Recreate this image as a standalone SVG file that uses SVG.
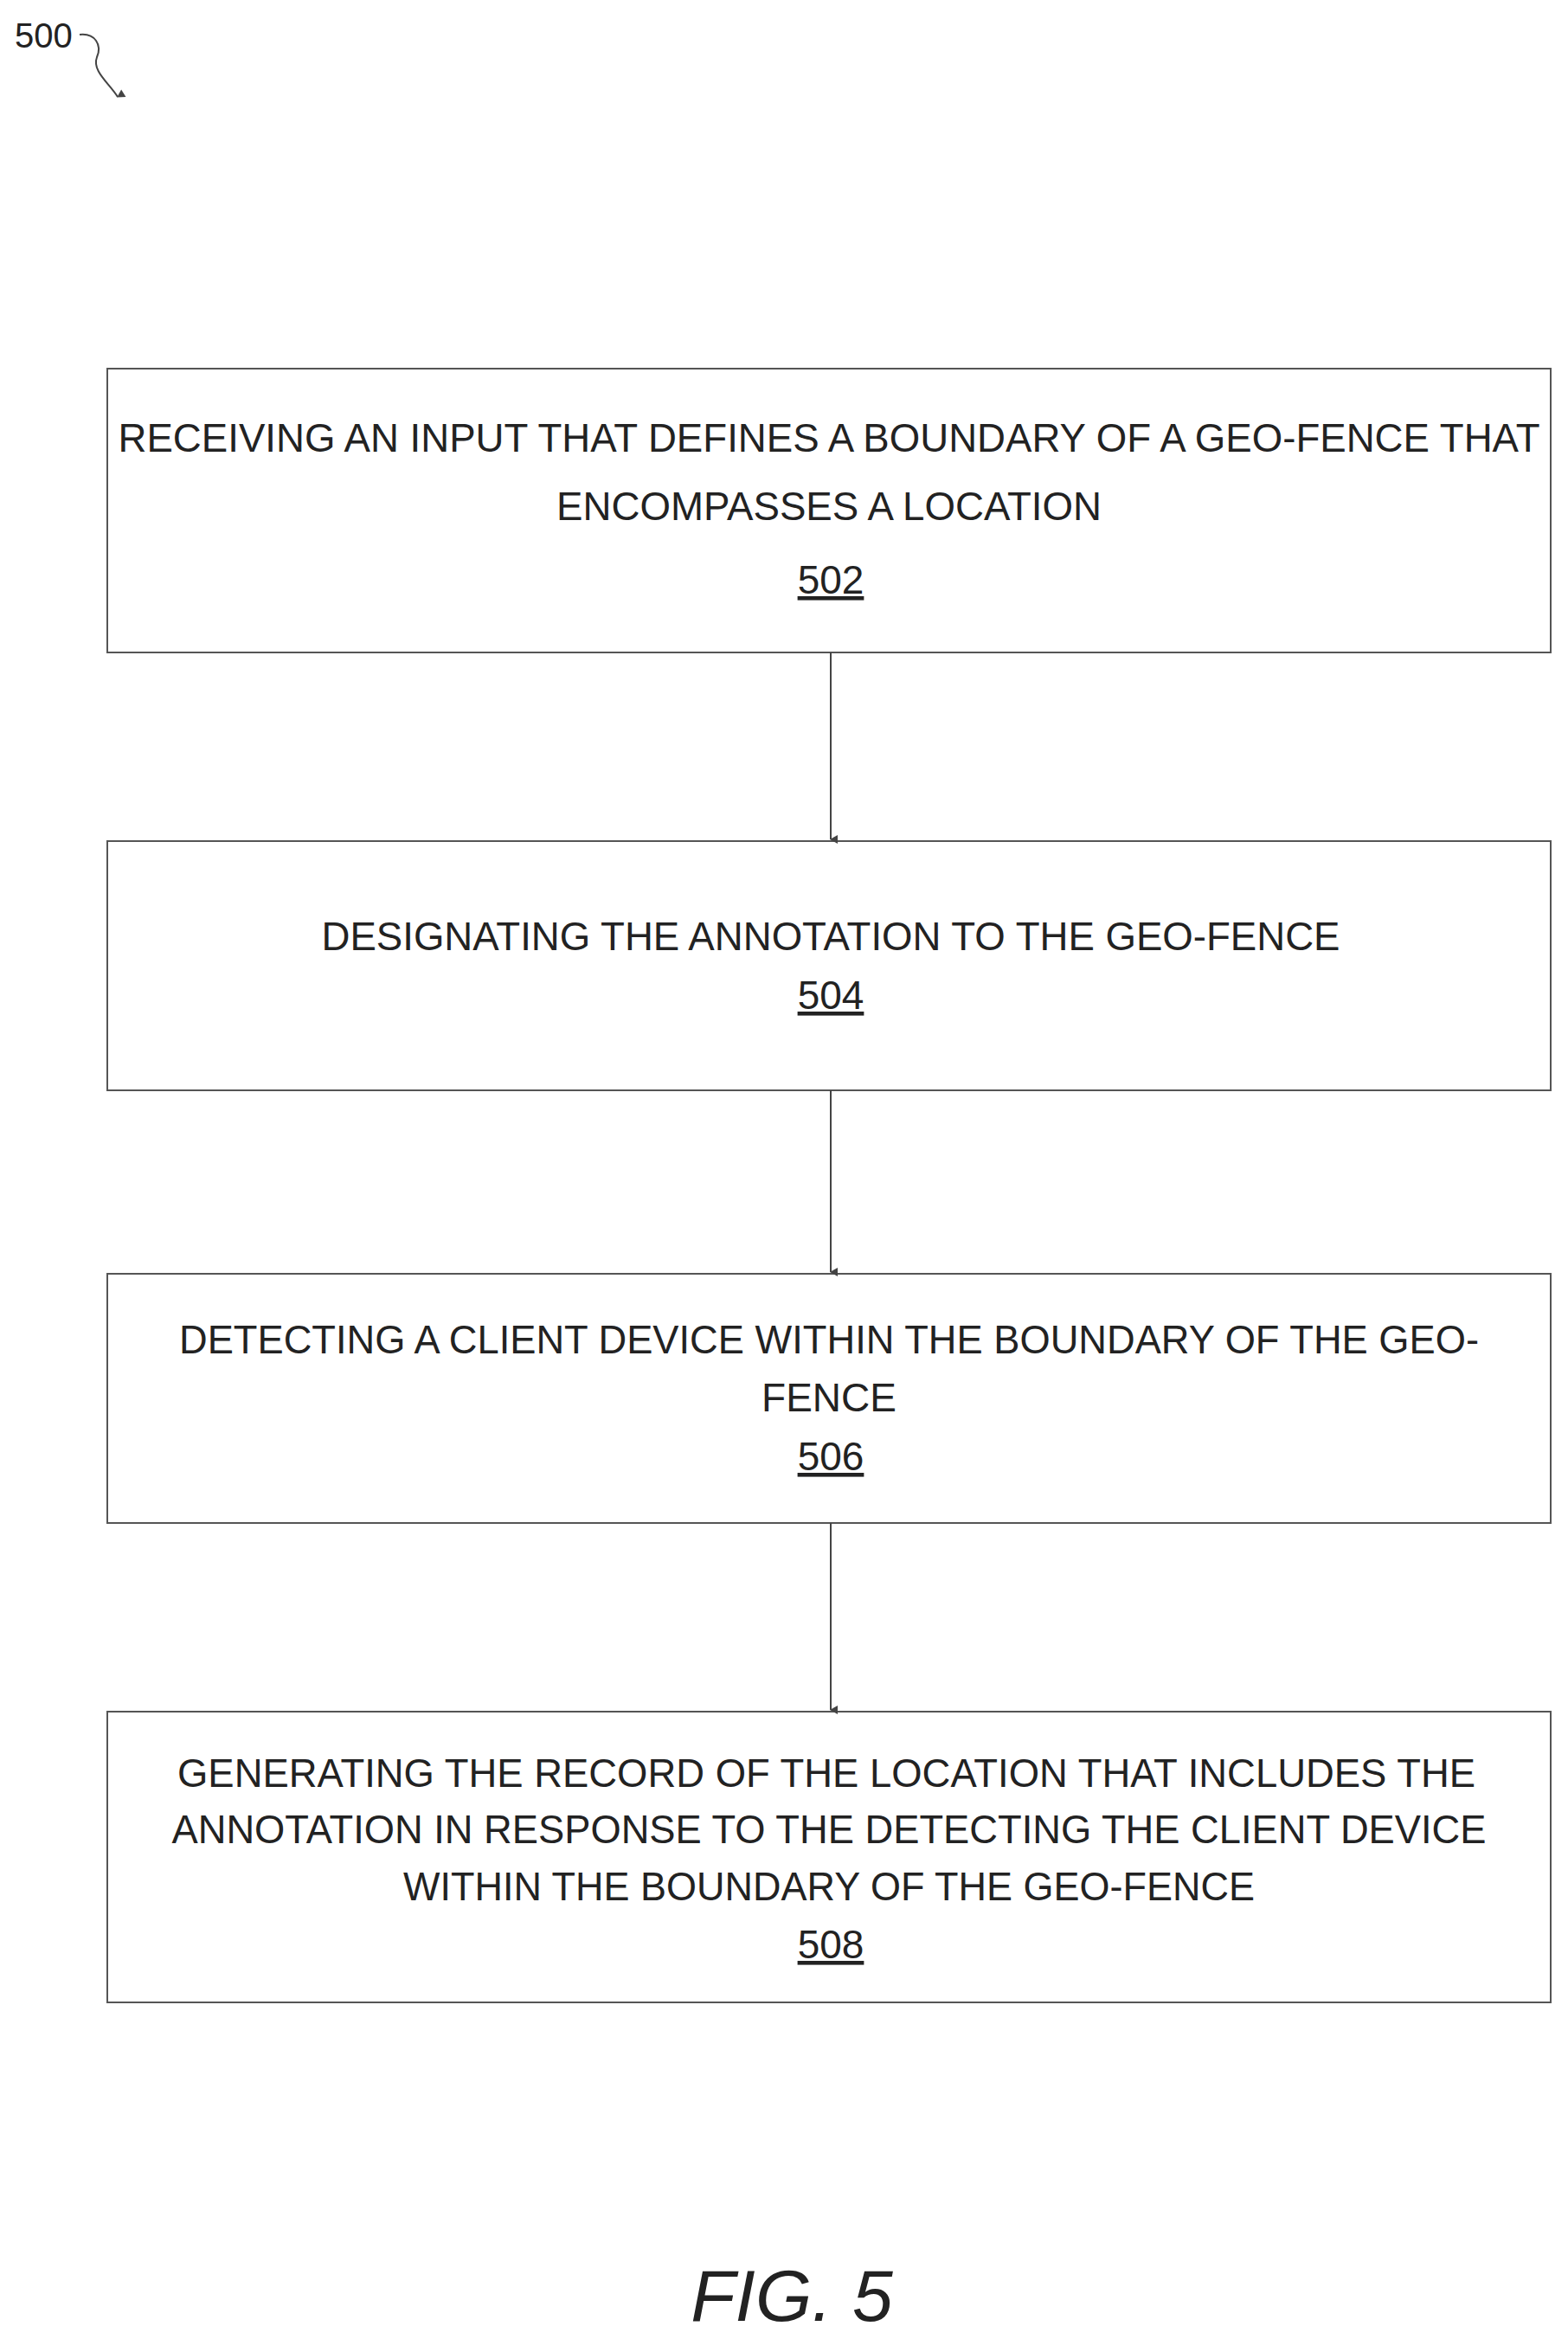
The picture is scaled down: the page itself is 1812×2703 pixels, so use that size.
<svg xmlns="http://www.w3.org/2000/svg" width="1812" height="2703" viewBox="0 0 1812 2703">
<style>
.b{fill:#fff;stroke:#555;stroke-width:2}
.t{font-family:"Liberation Sans",Arial,sans-serif;font-size:46px;fill:#222;text-anchor:middle}
.c{stroke:#444;stroke-width:2;fill:none}
</style>
<defs><marker id="a" markerWidth="12" markerHeight="12" refX="6" refY="10" orient="auto" markerUnits="userSpaceOnUse"><path d="M1,2 L6,11 L11,2 Z" fill="#444"/></marker></defs>
<rect width="1812" height="2703" fill="#fff"/>
<text x="17" y="55" font-family="Liberation Sans,Arial,sans-serif" font-size="40" fill="#222">500</text>
<path class="c" d="M92,40 C110,38 118,52 112,66 C106,82 126,96 136,112" marker-end="url(#a)"/>
<g id="n502"><rect class="b" x="124" y="426" width="1668" height="328"/>
<text class="t" x="958" y="522" textLength="1643" lengthAdjust="spacingAndGlyphs">RECEIVING AN INPUT THAT DEFINES A BOUNDARY OF A GEO-FENCE THAT</text>
<text class="t" x="958" y="601" textLength="630" lengthAdjust="spacingAndGlyphs">ENCOMPASSES A LOCATION</text>
<text class="t" x="960" y="686" text-decoration="underline">502</text></g>
<g id="n504"><rect class="b" x="124" y="972" width="1668" height="288"/>
<text class="t" x="960" y="1098" textLength="1177" lengthAdjust="spacingAndGlyphs">DESIGNATING THE ANNOTATION TO THE GEO-FENCE</text>
<text class="t" x="960" y="1166" text-decoration="underline">504</text></g>
<g id="n506"><rect class="b" x="124" y="1472" width="1668" height="288"/>
<text class="t" x="958" y="1564" textLength="1502" lengthAdjust="spacingAndGlyphs">DETECTING A CLIENT DEVICE WITHIN THE BOUNDARY OF THE GEO-</text>
<text class="t" x="958" y="1631">FENCE</text>
<text class="t" x="960" y="1699" text-decoration="underline">506</text></g>
<g id="n508"><rect class="b" x="124" y="1978" width="1668" height="336"/>
<text class="t" x="955" y="2065" textLength="1500" lengthAdjust="spacingAndGlyphs">GENERATING THE RECORD OF THE LOCATION THAT INCLUDES THE</text>
<text class="t" x="958" y="2130" textLength="1519" lengthAdjust="spacingAndGlyphs">ANNOTATION IN RESPONSE TO THE DETECTING THE CLIENT DEVICE</text>
<text class="t" x="958" y="2196" textLength="984" lengthAdjust="spacingAndGlyphs">WITHIN THE BOUNDARY OF THE GEO-FENCE</text>
<text class="t" x="960" y="2263" text-decoration="underline">508</text></g>
<g id="connectors">
<line class="c" x1="960" y1="754" x2="960" y2="970" marker-end="url(#a)"/>
<line class="c" x1="960" y1="1260" x2="960" y2="1470" marker-end="url(#a)"/>
<line class="c" x1="960" y1="1760" x2="960" y2="1976" marker-end="url(#a)"/>
</g>
<text x="915" y="2682" font-family="Liberation Sans,Arial,sans-serif" font-style="italic" font-size="84" fill="#222" text-anchor="middle">FIG. 5</text>
</svg>
